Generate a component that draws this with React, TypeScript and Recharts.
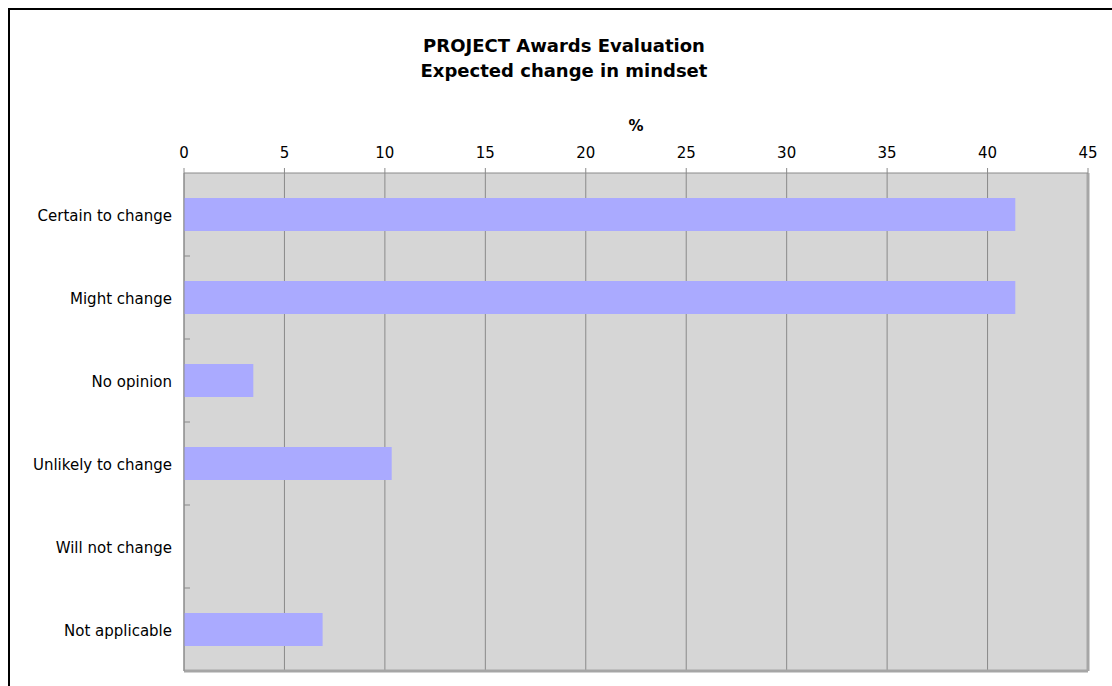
import React from "react"
import {
  BarChart,
  Bar,
  XAxis,
  YAxis,
  CartesianGrid,
} from "recharts"

const categories = [
  "Certain to change",
  "Might change",
  "No opinion",
  "Unlikely to change",
  "Will not change",
  "Not applicable",
]
const percentages = [41.38, 41.38, 3.45, 10.34, 0, 6.9]
const xTicks = [0, 5, 10, 15, 20, 25, 30, 35, 40, 45]

const FONT = "'DejaVu Sans', Verdana, sans-serif"
const LABEL_GAP = 12

// category label plus the small inward tick on the boundary above it
function CategoryTick(props: any) {
  const { x, y, payload, index } = props
  const half = payload && payload.offset ? payload.offset : 41.5
  const axisX = x + LABEL_GAP
  return (
    <g>
      {index > 0 && (
        <line x1={axisX} x2={axisX + 6} y1={y - half} y2={y - half} stroke="#8a8a8a" />
      )}
      <text x={x} y={y} dy={6} textAnchor="end" fill="#000" fontSize={15} fontFamily={FONT}>
        {payload.value}
      </text>
    </g>
  )
}

export default function App() {
  const data = categories.map((name, i) => ({ name, value: percentages[i] }))

  return (
    <div style={{ position: "absolute", left: 0, top: 0, width: 1112, height: 686, overflow: "hidden", background: "#fff" }}>
      <div
        style={{
          position: "absolute",
          left: 8,
          top: 8,
          width: 1200,
          height: 800,
          border: "2px solid #000",
          boxSizing: "border-box",
        }}
      />
      <div
        style={{
          position: "absolute",
          left: 0,
          top: 33,
          width: 1128,
          textAlign: "center",
          fontFamily: FONT,
          fontWeight: "bold",
          fontSize: 18,
          lineHeight: "25px",
          color: "#000",
        }}
      >
        PROJECT Awards Evaluation
        <br />
        Expected change in mindset
      </div>
      <div style={{ position: "absolute", left: 0, top: 0 }}>
        <BarChart
          width={1112}
          height={686}
          data={data}
          layout="vertical"
          margin={{ top: 130, right: 24, bottom: 15, left: 8 }}
          barSize={33}
        >
          <CartesianGrid
            horizontal={false}
            vertical
            fill="#d6d6d6"
            fillOpacity={1}
            stroke="#8a8a8a"
          />
          {/* darker frame along bottom and right edges of the plot */}
          <CartesianGrid
            horizontalCoordinatesGenerator={({ offset }: any) => [offset.top + offset.height]}
            verticalCoordinatesGenerator={({ offset }: any) => [offset.left + offset.width]}
            stroke="#a6a6a6"
            strokeWidth={3}
          />
          <XAxis
            type="number"
            orientation="top"
            domain={[0, 45]}
            ticks={xTicks}
            interval={0}
            height={43}
            axisLine={{ stroke: "#8a8a8a" }}
            tickLine={{ stroke: "#8a8a8a" }}
            tickSize={5}
            tickMargin={10}
            tick={{ fill: "#000", fontSize: 15, fontFamily: FONT }}
            label={{ value: "%", position: "top", offset: -1, fill: "#000", fontSize: 15, fontWeight: "bold", fontFamily: FONT }}
          />
          <YAxis
            type="category"
            dataKey="name"
            width={176}
            axisLine={{ stroke: "#8a8a8a" }}
            tickLine={false}
            tickSize={0}
            tickMargin={LABEL_GAP}
            interval={0}
            tick={<CategoryTick />}
          />
          <Bar dataKey="value" fill="#aaaaff" isAnimationActive={false} />
        </BarChart>
      </div>
    </div>
  )
}
